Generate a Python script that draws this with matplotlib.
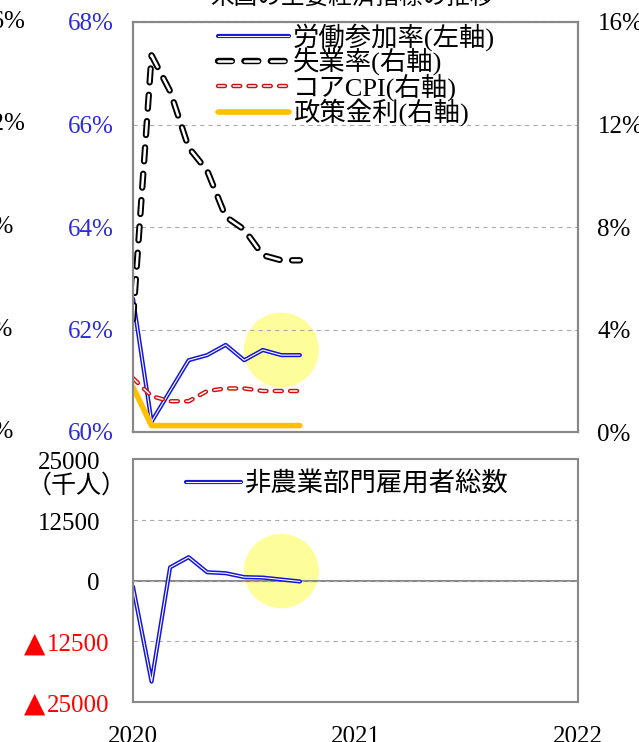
import matplotlib
matplotlib.use('Agg')
import matplotlib.pyplot as plt
import matplotlib.patheffects as pe
import matplotlib.transforms as mtransforms
from matplotlib.patches import Ellipse
import numpy as np

# ------------------------------data------------------------------#
months = ['2020-03', '2020-04', '2020-05', '2020-06', '2020-07',
          '2020-08', '2020-09', '2020-10', '2020-11', '2020-12']
lfpr = [62.6, 60.2, 60.8, 61.4, 61.5, 61.7, 61.4, 61.6, 61.5, 61.5]     # 左軸 %
unemp = [4.4, 14.7, 13.3, 11.1, 10.2, 8.4, 7.9, 6.9, 6.7, 6.7]          # 右軸 %
core_cpi = [2.1, 1.4, 1.2, 1.2, 1.6, 1.7, 1.7, 1.6, 1.6, 1.6]           # 右軸 %
policy_rate = [1.75, 0.25, 0.25, 0.25, 0.25, 0.25, 0.25, 0.25, 0.25, 0.25]
nfp = [-1300, -20800, 2700, 4800, 1700, 1500, 700, 600, 200, -200]      # 千人

left_ticks = [60, 62, 64, 66, 68]
right_ticks = [0, 4, 8, 12, 16]
nfp_ticks = [-25000, -12500, 0, 12500, 25000]
nfp_ticklabels = ['▲25000', '▲12500', '0', '12500', '25000']
year_ticks = [0, 12, 24]
year_labels = ['2020', '2021', '2022']

plt.rcParams['font.family'] = ['Liberation Serif', 'Noto Sans CJK JP', 'DejaVu Sans']
plt.rcParams['lines.scale_dashes'] = False

W, H = 639, 742
fig = plt.figure(figsize=(W / 100, H / 100), dpi=100)

spine_col = '#888888'
blue_txt = '#2B2BD9'
fs = 18


def outlined(axis, xs, ys, color, outer, inner, dashes=None, label=None):
    kw = {}
    if dashes is not None:
        kw['dashes'] = dashes
    line, = axis.plot(xs, ys, color='white', lw=inner, label=label,
                      solid_capstyle='round', dash_capstyle='round',
                      path_effects=[pe.Stroke(linewidth=outer, foreground=color), pe.Normal()],
                      **kw)
    return line


def style_spines(axis):
    for s in axis.spines.values():
        s.set_color(spine_col)
        s.set_linewidth(1.5)


x = np.arange(len(months))

# ------------------------------top panel------------------------------#
ax = fig.add_axes([133 / W, 1 - 432 / H, 445 / W, 410 / H])
ax2 = ax.twinx()

ax.add_patch(Ellipse((8, 61.6), 4.05, 1.46, color='#FDFD9A', zorder=0.5, lw=0))

l1 = outlined(ax, x, lfpr, '#1515D8', 3.0, 0.8, label='労働参加率(左軸)')
l2 = outlined(ax2, x, unemp, 'black', 4.6, 1.8, dashes=(10, 9), label='失業率(右軸)')
l3 = outlined(ax2, x, core_cpi, '#D01010', 3.2, 1.1, dashes=(5, 6), label='コアCPI(右軸)')
l4, = ax2.plot(x, policy_rate, color='#FFC000', lw=4, solid_capstyle='round',
               label='政策金利(右軸)')

ax.set_xlim(0, 24)
ax.set_ylim(60, 68)
ax2.set_ylim(0, 16)
ax.set_xticks([])
ax.set_yticks(left_ticks)
ax.set_yticklabels(['%d%%' % v for v in left_ticks], color=blue_txt, fontsize=fs)
ax2.set_yticks(right_ticks)
ax2.set_yticklabels(['%d%%' % v for v in right_ticks], fontsize=fs)
ax.tick_params(axis='y', length=0, pad=14)
ax2.tick_params(axis='y', length=0, pad=14)
ax.yaxis.grid(True, color='#AAAAAA', lw=0.8, ls=(0, (3, 3)))
style_spines(ax)
style_spines(ax2)

# cropped labels of the neighbouring chart on the far left
trans = mtransforms.blended_transform_factory(fig.transFigure, ax2.transData)
for v in right_ticks:
    ax2.text(-20 / W, v, '%d%%' % v, transform=trans, ha='left', va='center',
             fontsize=fs, clip_on=False)

leg = ax2.legend(handles=[l1, l2, l3, l4], loc='upper left', bbox_to_anchor=(0.19, 0.998),
                 frameon=False, fontsize=19, handlelength=2.7, handletextpad=0.15,
                 labelspacing=-0.1, borderpad=0, borderaxespad=0)

fig.text(352 / W, 1 - 4 / H, '米国の主要経済指標の推移', ha='center', va='baseline', fontsize=17)

# ------------------------------bottom panel------------------------------#
ax3 = fig.add_axes([133 / W, 1 - 702 / H, 445 / W, 243 / H])
ax3.add_patch(Ellipse((8, 1950), 4.05, 15300, color='#FDFD9A', zorder=0.5, lw=0))
ax3.axhline(0, color=spine_col, lw=1.5, zorder=1)
l5 = outlined(ax3, x, nfp, '#1515D8', 3.0, 0.8, label='非農業部門雇用者総数')

ax3.set_xlim(0, 24)
ax3.set_ylim(-25000, 25000)
ax3.set_yticks(nfp_ticks)
ax3.set_yticklabels([])
ax3.set_xticks(year_ticks)
ax3.set_xticklabels(year_labels, fontsize=fs)
ax3.tick_params(axis='y', length=0)
ax3.tick_params(axis='x', length=0, pad=17)
ax3.yaxis.grid(True, color='#AAAAAA', lw=0.8, ls=(0, (3, 3)))
style_spines(ax3)

# y labels drawn by hand: negatives carry a red triangle and sit further right
trans3 = mtransforms.blended_transform_factory(fig.transFigure, ax3.transData) + \
    mtransforms.ScaledTranslation(0, -10 / 100, fig.dpi_scale_trans)
for v, lab in zip(nfp_ticks, nfp_ticklabels):
    if lab.startswith('▲'):
        ax3.text(109 / W, v, lab[1:], transform=trans3, ha='right', va='baseline',
                 fontsize=fs, color='red', clip_on=False)
        ax3.text(45 / W, v, '▲', transform=trans3, ha='right', va='baseline',
                 fontsize=20, color='red', family=['DejaVu Sans'], clip_on=False)
    else:
        ax3.text(100 / W, v, lab, transform=trans3, ha='right', va='baseline',
                 fontsize=fs, clip_on=False)

fig.text(77 / W, 1 - 486 / H, '（千人）', ha='center', va='center', fontsize=18)

ax3.legend(handles=[l5], loc='upper left', bbox_to_anchor=((186 - 133) / 445, 0.95),
           frameon=False, fontsize=19, handlelength=2.1, handletextpad=0.15,
           borderpad=0, borderaxespad=0)

fig.savefig('out.png', dpi=100)
